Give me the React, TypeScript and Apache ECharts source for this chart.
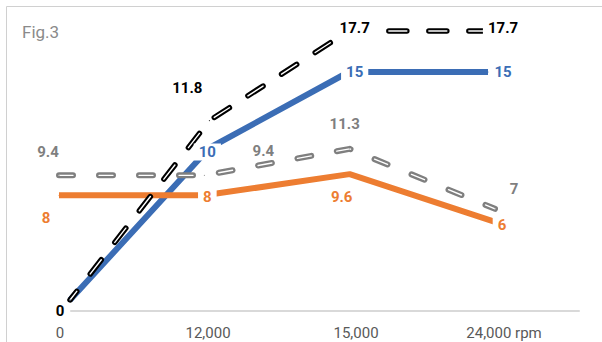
import React, { useEffect, useRef } from "react";
import * as echarts from "echarts";

const categories = ["0", "12,000", "15,000", "24,000 rpm"];
const blueValues = [0, 10, 15, 15];
const blackValues = [0, 11.8, 17.7, 17.7];
const orangeValues = [8, 8, 9.6, 6];
const grayValues = [9.4, 9.4, 11.3, 7];

const BLUE = "#3B6DB5";
const ORANGE = "#ED7D31";
const GRAY = "#7F7F7F";
const BLACK = "#000000";
const FONT = "Roboto, 'Liberation Sans', sans-serif";

// label offsets (styling only); null = hidden
const blueOffsets: (number[] | null)[] = [null, [-2, 4], [6, 0], [15, 0]];
const blackOffsets: (number[] | null)[] = [[-10, 11], [-22, -33], [6, -3], [15, -3]];
const orangeOffsets: (number[] | null)[] = [[-13, 23], [3, 2], [-8, 23], [7, 3]];
const grayOffsets: (number[] | null)[] = [[-11, -23], [59, -24], [-5, -25], [19, -20]];

function items(values: number[], offsets: (number[] | null)[]) {
  return values.map((v, i) => ({
    value: v,
    label: offsets[i] ? { show: true, offset: offsets[i] } : { show: false },
  }));
}

function labelStyle(color: string) {
  return {
    show: true,
    position: "inside",
    color,
    fontFamily: FONT,
    fontWeight: "bold",
    fontSize: 15,
    backgroundColor: "#ffffff",
    padding: [1, 5],
  };
}

export default function App() {
  const ref = useRef<HTMLDivElement>(null);
  useEffect(() => {
    if (!ref.current) return;
    const chart = echarts.init(ref.current, undefined, { renderer: "svg" });
    const top = 11.2;
    const hiddenCat = (gridIndex: number) => ({
      type: "category",
      gridIndex,
      data: categories,
      boundaryGap: false,
      show: false,
    });
    const hiddenVal = (gridIndex: number, min: number, max: number) => ({
      type: "value",
      gridIndex,
      min,
      max,
      show: false,
    });
    chart.setOption({
      animation: false,
      backgroundColor: "#ffffff",
      title: {
        text: "Fig.3",
        left: 22,
        top: 23,
        padding: 0,
        textStyle: { fontFamily: FONT, fontSize: 17, fontWeight: "normal", color: "#8A8A8A" },
      },
      graphic: [
        {
          type: "rect",
          shape: { x: 6.5, y: 6.5, width: 700, height: 500 },
          style: { fill: "none", stroke: "#D0D0D0", lineWidth: 1 },
          silent: true,
        },
      ],
      grid: [
        { left: 70, right: 114, top, bottom: 42 },
        { left: 59, right: 107, top, bottom: 42 },
        { left: 60, right: 98, top, bottom: 31 },
        { left: 71, right: 23, top, bottom: 31 },
      ],
      xAxis: [
        hiddenCat(0),
        hiddenCat(1),
        {
          type: "category",
          gridIndex: 2,
          data: categories,
          boundaryGap: false,
          axisLine: { show: false },
          axisTick: { show: false },
          splitLine: { show: false },
          axisLabel: { color: "#595959", fontFamily: FONT, fontSize: 15, margin: 14 },
        },
        {
          type: "value",
          gridIndex: 3,
          min: 0,
          max: 1,
          axisLine: { show: true, lineStyle: { color: "#D9D9D9", width: 2 } },
          axisTick: { show: false },
          axisLabel: { show: false },
          splitLine: { show: false },
        },
      ],
      yAxis: [
        hiddenVal(0, 0, 19),
        hiddenVal(1, 0.1, 21.9),
        hiddenVal(1, 0.47, 21.16),
        hiddenVal(2, 0, 1),
        hiddenVal(3, 0, 1),
      ],
      series: [
        {
          type: "line",
          xAxisIndex: 0,
          yAxisIndex: 0,
          data: items(blueValues, blueOffsets),
          symbol: "circle",
          symbolSize: 1,
          itemStyle: { color: BLUE },
          lineStyle: { color: BLUE, width: 6 },
          label: labelStyle(BLUE),
        },
        {
          type: "line",
          xAxisIndex: 1,
          yAxisIndex: 1,
          data: items(orangeValues, orangeOffsets),
          symbol: "circle",
          symbolSize: 1,
          itemStyle: { color: ORANGE },
          lineStyle: { color: ORANGE, width: 6 },
          label: labelStyle(ORANGE),
        },
        {
          type: "line",
          xAxisIndex: 1,
          yAxisIndex: 2,
          data: items(grayValues, grayOffsets),
          symbol: "circle",
          symbolSize: 1,
          itemStyle: { color: GRAY },
          lineStyle: { color: GRAY, width: 6, type: [14, 26], cap: "round", join: "round" },
          label: labelStyle(GRAY),
        },
        {
          type: "line",
          xAxisIndex: 1,
          yAxisIndex: 2,
          data: grayValues,
          symbol: "none",
          silent: true,
          lineStyle: { color: "#ffffff", width: 1.4, type: [14, 26], cap: "round", join: "round" },
        },
        {
          type: "line",
          xAxisIndex: 0,
          yAxisIndex: 0,
          data: items(blackValues, blackOffsets),
          symbol: "circle",
          symbolSize: 1,
          itemStyle: { color: BLACK },
          lineStyle: { color: BLACK, width: 5.5, type: [18, 22], dashOffset: 7, cap: "round", join: "round" },
          label: labelStyle(BLACK),
        },
        {
          type: "line",
          xAxisIndex: 0,
          yAxisIndex: 0,
          data: blackValues,
          symbol: "none",
          silent: true,
          lineStyle: { color: "#ffffff", width: 1.4, type: [18, 22], dashOffset: 7, cap: "round", join: "round" },
        },
      ],
    });
    return () => chart.dispose();
  }, []);
  return (
    <div
      ref={ref}
      style={{ position: "absolute", left: 0, top: 0, width: 602, height: 342 }}
    />
  );
}
